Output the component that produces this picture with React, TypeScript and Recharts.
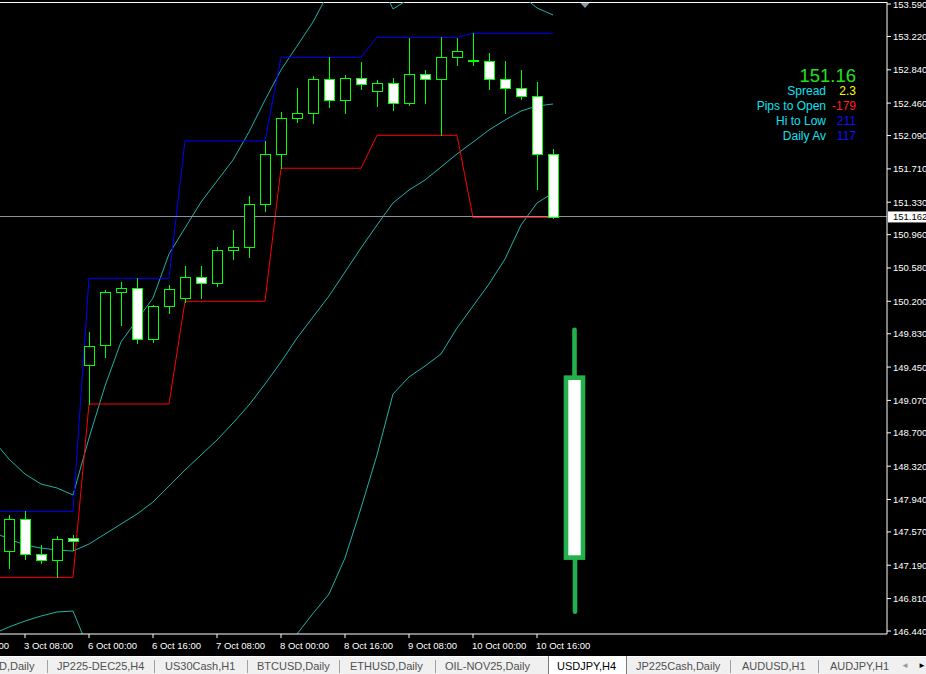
import React from 'react';
import { ComposedChart, Bar, Line, XAxis, YAxis, ReferenceLine } from 'recharts';

// USDJPY H4, one entry per bar from 3 Oct 04:00 to 10 Oct 20:00
const barTimes = [
  '3 Oct 04:00', '3 Oct 08:00', '3 Oct 12:00', '3 Oct 16:00', '3 Oct 20:00',
  '6 Oct 00:00', '6 Oct 04:00', '6 Oct 08:00', '6 Oct 12:00', '6 Oct 16:00', '6 Oct 20:00',
  '7 Oct 00:00', '7 Oct 04:00', '7 Oct 08:00', '7 Oct 12:00', '7 Oct 16:00', '7 Oct 20:00',
  '8 Oct 00:00', '8 Oct 04:00', '8 Oct 08:00', '8 Oct 12:00', '8 Oct 16:00', '8 Oct 20:00',
  '9 Oct 00:00', '9 Oct 04:00', '9 Oct 08:00', '9 Oct 12:00', '9 Oct 16:00', '9 Oct 20:00',
  '10 Oct 00:00', '10 Oct 04:00', '10 Oct 08:00', '10 Oct 12:00', '10 Oct 16:00', '10 Oct 20:00',
];

const open = [
  147.352, 147.714, 147.315, 147.246, 147.497,
  149.470, 149.698, 150.302, 150.348, 149.766, 150.143,
  150.234, 150.474, 150.405, 150.781, 150.816, 151.306,
  151.876, 152.287, 152.344, 152.732, 152.492, 152.743,
  152.595, 152.686, 152.458, 152.789, 152.732, 152.982,
  152.950, 152.937, 152.732, 152.629, 152.538, 151.876,
];
const high = [
  147.766, 147.805, 147.417, 147.523, 147.531,
  149.850, 150.329, 150.417, 150.462, 150.154, 150.386,
  150.602, 150.602, 150.819, 151.013, 151.397, 152.031,
  152.355, 152.632, 152.769, 152.982, 152.777, 152.929,
  152.724, 152.746, 153.202, 152.838, 153.210, 153.202,
  153.256, 153.028, 152.940, 152.838, 152.701, 151.937,
];
const low = [
  147.162, 147.264, 147.212, 147.052, 147.364,
  149.029, 149.568, 149.933, 149.728, 149.739, 150.063,
  150.188, 150.234, 150.378, 150.686, 150.708, 151.233,
  151.717, 152.248, 152.230, 152.419, 152.351, 152.624,
  152.427, 152.385, 152.442, 152.458, 152.093, 152.891,
  152.891, 152.617, 152.351, 152.503, 151.484, 151.155,
];
const close = [
  147.714, 147.315, 147.246, 147.486, 147.463,
  149.687, 150.302, 150.348, 149.766, 150.143, 150.337,
  150.474, 150.405, 150.781, 150.819, 151.306, 151.876,
  152.287, 152.344, 152.732, 152.492, 152.743, 152.674,
  152.686, 152.458, 152.789, 152.732, 152.982, 153.051,
  152.938, 152.732, 152.629, 152.538, 151.876, 151.162,
];

// indicator lines start one bar earlier (3 Oct 00:00, off the left edge)
const upperBand = [
  148.618, 148.401, 148.230, 148.116, 148.071, 147.991,
  148.641, 149.234, 149.736, 149.987, 150.237, 150.739,
  151.036, 151.332, 151.572, 151.811, 152.131, 152.495,
  152.838, 153.111, 153.385, 153.727, 153.887, 153.910,
  153.921, 153.533, 153.647, 153.773, 153.887, 153.955,
  153.978, 153.932, 153.818, 153.693, 153.545, 153.465,
];
const midBand = [
  147.569, 147.489, 147.421, 147.386, 147.364, 147.352,
  147.432, 147.546, 147.660, 147.774, 147.911, 148.093,
  148.276, 148.447, 148.618, 148.812, 149.017, 149.257,
  149.508, 149.781, 150.021, 150.260, 150.534, 150.808,
  151.070, 151.321, 151.469, 151.583, 151.731, 151.880,
  152.016, 152.153, 152.267, 152.370, 152.427, 152.450,
];
const lowerBand = [
  146.406, 146.486, 146.554, 146.611, 146.657, 146.668,
  146.223, 145.858, 145.585, 145.562, 145.585, 145.448,
  145.516, 145.562, 145.664, 145.813, 145.904, 146.018,
  146.155, 146.406, 146.640, 146.862, 147.272, 147.843,
  148.447, 149.143, 149.337, 149.462, 149.599, 149.895,
  150.146, 150.397, 150.682, 151.070, 151.321, 151.435,
];
const dayHigh = [
  147.805, 147.805, 147.805, 147.805, 147.805, 147.805,
  150.462, 150.462, 150.462, 150.462, 150.462, 150.462,
  152.028, 152.028, 152.028, 152.028, 152.028, 152.028,
  152.982, 152.982, 152.982, 152.982, 152.982, 152.982,
  153.210, 153.210, 153.210, 153.210, 153.210, 153.210,
  153.256, 153.256, 153.256, 153.256, 153.256, 153.256,
];
const dayLow = [
  147.052, 147.052, 147.052, 147.052, 147.052, 147.052,
  149.029, 149.029, 149.029, 149.029, 149.029, 149.029,
  150.200, 150.200, 150.200, 150.200, 150.200, 150.200,
  151.717, 151.717, 151.717, 151.717, 151.717, 151.717,
  152.093, 152.093, 152.093, 152.093, 152.093, 152.093,
  151.155, 151.155, 151.155, 151.155, 151.155, 151.155,
];

// the large daily candle drawn right of the last bar
const bigCandle = { slot: 35.35, o: 149.329, h: 149.876, l: 146.661, c: 147.277 };

const lastPrice = 151.162;
const priceTicks = [
  146.44, 146.81, 147.19, 147.57, 147.94, 148.32, 148.7, 149.07, 149.45, 149.83,
  150.2, 150.58, 150.96, 151.33, 151.71, 152.09, 152.46, 152.84, 153.22, 153.59,
];
const timeTickSlots = [-3, 1, 5, 9, 13, 17, 21, 25, 29, 33];
const timeTickLabels = [
  '2 Oct 16:00', '3 Oct 08:00', '6 Oct 00:00', '6 Oct 16:00', '7 Oct 08:00',
  '8 Oct 00:00', '8 Oct 16:00', '9 Oct 08:00', '10 Oct 00:00', '10 Oct 16:00',
];

const tabNames = [
  'D,Daily', 'JP225-DEC25,H4', 'US30Cash,H1', 'BTCUSD,Daily', 'ETHUSD,Daily',
  'OIL-NOV25,Daily', 'USDJPY,H4', 'JP225Cash,Daily', 'AUDUSD,H1', 'AUDJPY,H1',
];
const tabTextX = [-1, 57, 165, 257, 350, 445, 557, 636, 742, 830];
const tabSeparators = [47, 154, 247, 339, 435, 730, 818];
const ACTIVE_TAB = 6;

const C = {
  bg: '#000000',
  frame: '#ffffff',
  candle: '#00ff00',
  bull: '#000000',
  bear: '#ffffff',
  band: '#20b2aa',
  dayHigh: '#0000ff',
  dayLow: '#ff0000',
  price: '#8a929c',
  big: '#22b14c',
  info: '#10e0f0',
};

const FONT = '"Liberation Sans", Arial, sans-serif';
const Y_DOMAIN: [number, number] = [146.406, 153.613];
const X_DOMAIN: [number, number] = [-0.5625, 54.875];

const rows: any[] = upperBand.map((_, k) => {
  const i = k - 1;
  const row: any = {
    i,
    up: upperBand[k],
    mid: midBand[k],
    lo: lowerBand[k],
    dh: dayHigh[k],
    dl: dayLow[k],
  };
  if (i >= 0) {
    row.t = barTimes[i];
    row.o = open[i];
    row.h = high[i];
    row.l = low[i];
    row.c = close[i];
    row.range = [low[i], high[i]];
  }
  return row;
});
rows.push({
  i: bigCandle.slot,
  o: bigCandle.o,
  h: bigCandle.h,
  l: bigCandle.l,
  c: bigCandle.c,
  range: [bigCandle.l, bigCandle.h],
  big: true,
});

function Candle(props: any) {
  const { x, y, width, height, payload } = props;
  if (!payload || payload.h == null || !height || isNaN(y)) return null;
  const cx = Math.round(x + width / 2) + 0.5;
  const k = height / (payload.h - payload.l);
  const yO = y + (payload.h - payload.o) * k;
  const yC = y + (payload.h - payload.c) * k;
  const top = Math.min(yO, yC);
  const bot = Math.max(yO, yC);
  const bear = payload.c < payload.o;

  if (payload.big) {
    const sw = 4.6;
    return (
      <g>
        <line x1={cx} x2={cx} y1={y} y2={top} stroke={C.big} strokeWidth={sw} strokeLinecap="round" />
        <line x1={cx + 0.5} x2={cx + 0.5} y1={bot} y2={y + height} stroke={C.big} strokeWidth={sw} strokeLinecap="round" />
        <rect x={cx - 8.5} y={top} width={17} height={bot - top} fill={C.bear} stroke={C.big} strokeWidth={sw} />
      </g>
    );
  }

  const t = Math.round(top) + 0.5;
  const b = Math.max(Math.round(bot) + 0.5, t + 1);
  const wTop = Math.round(y);
  const wBot = Math.round(y + height) + 1;
  return (
    <g>
      <rect x={cx - 0.5} y={wTop} width={1} height={wBot - wTop} fill={C.candle} />
      <rect x={cx - 5} y={t} width={10} height={b - t} fill={bear ? C.bear : C.bull} stroke={C.candle} strokeWidth={1} />
    </g>
  );
}

function PriceTick(props: any) {
  const { x, y, payload } = props;
  return (
    <text x={x} y={y + 3.5} fill="#ffffff" fontSize={9.5} fontFamily={FONT} textAnchor="start">
      {Number(payload.value).toFixed(3)}
    </text>
  );
}

function TimeTick(props: any) {
  const { x, y, payload } = props;
  const idx = timeTickSlots.indexOf(payload.value);
  if (idx < 0) return null;
  return (
    <text x={x - 1} y={y + 8.5} fill="#ffffff" fontSize={9.5} fontFamily={FONT} textAnchor="start">
      {timeTickLabels[idx]}
    </text>
  );
}

function PriceTag(props: any) {
  const vb = props.viewBox;
  if (!vb) return null;
  const x0 = vb.x + vb.width;
  const y0 = vb.y;
  return (
    <g>
      <rect x={x0 + 1} y={y0 - 5.5} width={40} height={11} fill="#ffffff" />
      <text x={x0 + 6} y={y0 + 3.5} fill="#000000" fontSize={9.5} fontFamily={FONT}>
        {lastPrice.toFixed(3)}
      </text>
    </g>
  );
}

const infoRows = [
  { label: 'Spread', value: '2.3', color: '#ffff00' },
  { label: 'Pips to Open', value: '-179', color: '#ff2020' },
  { label: 'Hi to Low', value: '211', color: '#1010ff' },
  { label: 'Daily Av', value: '117', color: '#1010ff' },
];

export default function App() {
  return (
    <div
      style={{
        position: 'absolute',
        left: 0,
        top: 0,
        width: 926,
        height: 674,
        background: C.bg,
        overflow: 'hidden',
        fontFamily: FONT,
      }}
    >
      <ComposedChart
        width={926}
        height={656}
        data={rows}
        margin={{ top: 2, right: 0, bottom: 0, left: 0 }}
        style={{ background: C.bg }}
      >
        <XAxis
          type="number"
          dataKey="i"
          domain={X_DOMAIN}
          allowDataOverflow
          ticks={timeTickSlots}
          interval={0}
          height={22}
          tickSize={4}
          axisLine={{ stroke: C.frame }}
          tickLine={{ stroke: C.frame }}
          tick={<TimeTick />}
        />
        <YAxis
          type="number"
          orientation="right"
          width={39}
          domain={Y_DOMAIN}
          allowDataOverflow
          ticks={priceTicks}
          interval={0}
          tickSize={4}
          axisLine={{ stroke: C.frame }}
          tickLine={{ stroke: C.frame }}
          tick={<PriceTick />}
        />
        <ReferenceLine y={Y_DOMAIN[1]} stroke={C.frame} shapeRendering="crispEdges" />
        <Line type="linear" dataKey="up" stroke={C.band} strokeWidth={1} dot={false} isAnimationActive={false} />
        <Line type="linear" dataKey="mid" stroke={C.band} strokeWidth={1} dot={false} isAnimationActive={false} />
        <Line type="linear" dataKey="lo" stroke={C.band} strokeWidth={1} dot={false} isAnimationActive={false} />
        <Line type="linear" dataKey="dh" stroke={C.dayHigh} strokeWidth={1} dot={false} isAnimationActive={false} />
        <Line type="linear" dataKey="dl" stroke={C.dayLow} strokeWidth={1} dot={false} isAnimationActive={false} />
        <ReferenceLine
          y={lastPrice}
          stroke={C.price}
          shapeRendering="crispEdges"
          label={(p: any) => <PriceTag {...p} />}
        />
        <Bar dataKey="range" barSize={11} shape={<Candle />} isAnimationActive={false} zIndex={450} />
      </ComposedChart>

      <svg
        width={926}
        height={656}
        style={{ position: 'absolute', left: 0, top: 0, pointerEvents: 'none' }}
      >
        <polygon points="580.5,3 589.5,3 585,8" fill="#8c99a8" />
        <text x={856} y={81.5} textAnchor="end" fill="#20e020" fontSize={18.5} fontFamily={FONT}>
          151.16
        </text>
        {infoRows.map((r, k) => (
          <g key={r.label}>
            <text x={826} y={95 + k * 15} textAnchor="end" fill={C.info} fontSize={12} fontFamily={FONT}>
              {r.label}
            </text>
            <text x={856} y={95 + k * 15} textAnchor="end" fill={r.color} fontSize={12} fontFamily={FONT}>
              {r.value}
            </text>
          </g>
        ))}
      </svg>

      <div
        style={{
          position: 'absolute',
          left: 0,
          top: 656,
          width: 926,
          height: 18,
          background: '#f0f0f0',
          borderTop: '1px solid #ffffff',
          boxSizing: 'border-box',
        }}
      >
        <div
          style={{
            position: 'absolute',
            left: 548,
            top: -1,
            width: 79,
            height: 19,
            background: '#ffffff',
            borderLeft: '1px solid #7a7a7a',
            borderRight: '1px solid #7a7a7a',
            boxSizing: 'border-box',
          }}
        />
        {tabSeparators.map((sx) => (
          <div
            key={sx}
            style={{ position: 'absolute', left: sx, top: 3, width: 1, height: 13, background: '#a0a0a0' }}
          />
        ))}
        {tabNames.map((name, k) => (
          <div
            key={name}
            style={{
              position: 'absolute',
              left: tabTextX[k],
              top: 2,
              fontSize: 11,
              lineHeight: '14px',
              whiteSpace: 'nowrap',
              color: k === ACTIVE_TAB ? '#000000' : '#505050',
            }}
          >
            {name}
          </div>
        ))}
        <div style={{ position: 'absolute', left: 901, top: 2, fontSize: 8, lineHeight: '14px', color: '#9a9a9a' }}>◄</div>
        <div style={{ position: 'absolute', left: 918, top: 2, fontSize: 8, lineHeight: '14px', color: '#000000' }}>►</div>
      </div>
    </div>
  );
}
